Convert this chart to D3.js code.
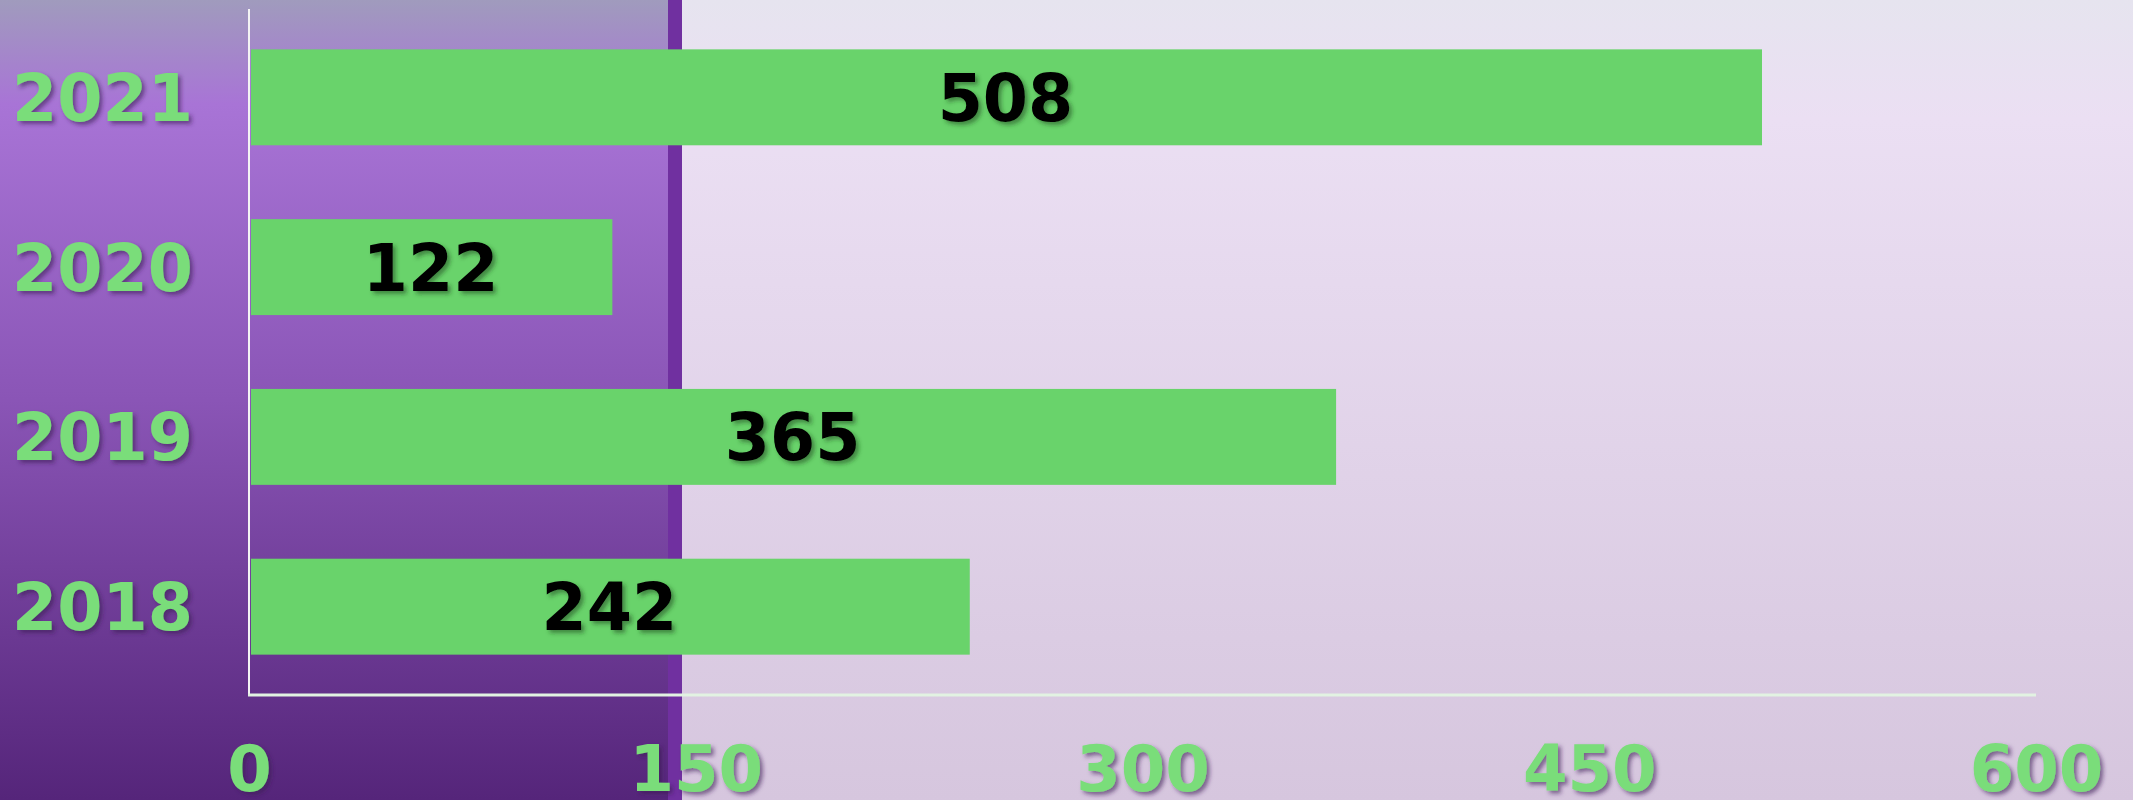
<!DOCTYPE html>
<html>
<head>
<meta charset="utf-8">
<script src="https://cdn.jsdelivr.net/npm/d3@7"></script>
<style>
  html, body { margin: 0; padding: 0; overflow: hidden; }
  svg { display: block; }
  text { font-family: "DejaVu Sans", Verdana, sans-serif; font-weight: bold; }
</style>
</head>
<body>
<div id="wrapper"></div>
<script>
// data, top bar first
const years = ["2021", "2020", "2019", "2018"];
const values = [508, 122, 365, 242];
const xTicks = [0, 150, 300, 450, 600];

const width = 2133, height = 800;
const margin = {top: 12, left: 249, right: 97, bottom: 108};

const svg = d3.select("#wrapper")
  .append("svg")
  .attr("width", width)
  .attr("height", height);

const defs = svg.append("defs");

const leftGrad = defs.append("linearGradient")
  .attr("id", "leftGrad").attr("x1", 0).attr("y1", 0).attr("x2", 0).attr("y2", 1);
[[0, "#a09bbd"], [0.13, "#a874d6"], [0.5, "#8a55b6"], [1, "#55257a"]]
  .forEach(s => leftGrad.append("stop").attr("offset", s[0]).attr("stop-color", s[1]));

const rightGrad = defs.append("linearGradient")
  .attr("id", "rightGrad").attr("x1", 0).attr("y1", 0).attr("x2", 0).attr("y2", 1);
[[0, "#e6e4ef"], [0.15, "#ebdff3"], [1, "#d6c6de"]]
  .forEach(s => rightGrad.append("stop").attr("offset", s[0]).attr("stop-color", s[1]));

const shadowPurple = defs.append("filter").attr("id", "shadowPurple")
  .attr("x", "-20%").attr("y", "-20%").attr("width", "140%").attr("height", "140%");
shadowPurple.append("feDropShadow")
  .attr("dx", 3).attr("dy", 3).attr("stdDeviation", 2)
  .attr("flood-color", "#3a1a55").attr("flood-opacity", 0.6);

const shadowDark = defs.append("filter").attr("id", "shadowDark")
  .attr("x", "-20%").attr("y", "-20%").attr("width", "140%").attr("height", "140%");
shadowDark.append("feDropShadow")
  .attr("dx", 3).attr("dy", 3).attr("stdDeviation", 2)
  .attr("flood-color", "#1c4a1c").attr("flood-opacity", 0.55);

// background panels
svg.append("rect").attr("x", 0).attr("y", 0).attr("width", 668).attr("height", height)
  .attr("fill", "url(#leftGrad)");
svg.append("rect").attr("x", 668).attr("y", 0).attr("width", 14).attr("height", height)
  .attr("fill", "#7030a0");
svg.append("rect").attr("x", 682).attr("y", 0).attr("width", width - 682).attr("height", height)
  .attr("fill", "url(#rightGrad)");

const x = d3.scaleLinear()
  .domain([0, 600])
  .range([margin.left, width - margin.right]);

const y = d3.scaleBand()
  .domain(years)
  .range([margin.top, height - margin.bottom])
  .paddingInner(0.435)
  .paddingOuter(0.22);

const data = years.map((d, i) => ({year: d, value: values[i]}));

// bars
svg.selectAll("rect.bar")
  .data(data)
  .enter()
  .append("rect")
  .attr("class", "bar")
  .attr("x", x(0) + 2)
  .attr("y", d => y(d.year))
  .attr("width", d => x(d.value) - x(0) - 2)
  .attr("height", y.bandwidth())
  .attr("fill", "#69d36b");

// value labels
svg.selectAll("text.value")
  .data(data)
  .enter()
  .append("text")
  .attr("class", "value")
  .attr("x", d => (x(0) + x(d.value)) / 2)
  .attr("y", d => y(d.year) + y.bandwidth() / 2)
  .attr("dy", "0.36em")
  .attr("text-anchor", "middle")
  .style("font-size", "65px")
  .attr("fill", "#000")
  .attr("filter", "url(#shadowDark)")
  .text(d => d.value);

// axis lines
const axisBottomY = 695;
svg.append("line")
  .attr("x1", x(0)).attr("x2", x(0))
  .attr("y1", 9).attr("y2", axisBottomY)
  .attr("stroke", "#f4f4f4").attr("stroke-width", 2);
svg.append("line")
  .attr("x1", x(0) - 1).attr("x2", x(600))
  .attr("y1", axisBottomY).attr("y2", axisBottomY)
  .attr("stroke", "#e2f2e2").attr("stroke-width", 3);

// y axis labels
const yAxis = svg.append("g")
  .attr("transform", `translate(${x(0)},0)`)
  .call(d3.axisLeft(y).tickSize(0).tickPadding(56));
yAxis.select(".domain").remove();
yAxis.selectAll("text")
  .attr("dy", "0.36em")
  .style("font-size", "65px")
  .attr("fill", "#7add7a")
  .attr("filter", "url(#shadowPurple)");

// x axis labels
const xAxis = svg.append("g")
  .attr("transform", `translate(0,${axisBottomY})`)
  .call(d3.axisBottom(x).tickValues(xTicks).tickSize(0).tickFormat(d3.format("d")));
xAxis.select(".domain").remove();
xAxis.selectAll("text")
  .attr("y", 96)
  .attr("dy", null)
  .style("font-size", "64px")
  .attr("fill", "#7add7a")
  .attr("filter", "url(#shadowPurple)");
</script>
</body>
</html>
